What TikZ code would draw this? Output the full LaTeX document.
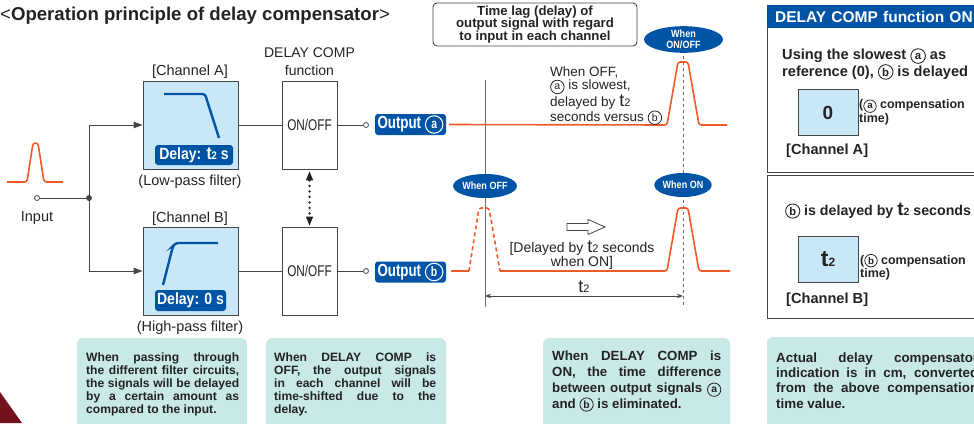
\documentclass[tikz,border=0pt]{standalone}
\usepackage{fontspec}
\setmainfont{Liberation Sans}
\newfontfamily\cond[FakeStretch=0.86]{Liberation Sans}
\newfontfamily\vcond[FakeStretch=0.76]{Liberation Sans}
\usetikzlibrary{arrows.meta,shapes.geometric,calc}
\definecolor{boxblue}{RGB}{200,232,248}
\definecolor{dblue}{RGB}{0,84,166}
\definecolor{sigor}{RGB}{240,90,40}
\definecolor{notec}{RGB}{200,233,230}
\definecolor{lgray}{RGB}{70,70,70}
\definecolor{mgray}{RGB}{110,110,110}
\definecolor{txt}{RGB}{35,35,35}
\definecolor{darkred}{RGB}{115,18,28}
\newcommand{\fs}[2]{\fontsize{#1}{#2}\selectfont}
\newcommand{\circled}[1]{\tikz[baseline=(cc.base)]\node[circle, draw, text=., line width=0.06em, inner sep=0pt, minimum size=1.0em] (cc) {\scalebox{0.78}{#1}};}
\newcommand{\ca}{\circled{a}}
\newcommand{\cb}{\circled{b}}
\newcommand{\tz}[2]{{\fontsize{#1}{#1}\selectfont t}{\fontsize{#2}{#2}\selectfont 2}}
\hyphenpenalty=10000
\exhyphenpenalty=10000
\tolerance=10000
\hbadness=10000
\begin{document}
\begin{tikzpicture}[x=1pt,y=-1pt,
  every node/.style={inner sep=0pt, text=txt},
  lbl/.style={font=\fs{14.5}{17}},
  filt/.style={draw=lgray, line width=.9, fill=boxblue, minimum width=95, minimum height=88},
  onoff/.style={draw=lgray, line width=.9, fill=white, minimum width=55, minimum height=88, font=\vcond\fs{15.5}{16}},
  dlab/.style={fill=dblue, rounded corners=3, text=white, font=\cond\bfseries\fs{16.3}{17}},
  outlab/.style={fill=dblue, rounded corners=3, text=white, font=\vcond\bfseries\fs{17.5}{18}, minimum width=71, minimum height=21},
  term/.style={circle, draw=lgray, fill=white, line width=.8, minimum size=5},
  jdot/.style={circle, fill=lgray, minimum size=6},
  wire/.style={draw=lgray, line width=.9},
  arr/.style={-{Triangle[length=9pt,width=6.5pt]}},
  curve/.style={draw=dblue, line width=2.4, rounded corners=2.5},
  pulse/.style={draw=sigor, line width=1.6, rounded corners=2.5, line join=round},
  ell/.style={ellipse, fill=dblue, text=white, font=\cond\bfseries\fs{10.5}{11}, align=center},
  axisl/.style={draw=mgray, line width=1},
  notebox/.style={fill=notec, rounded corners=6},
  notetext/.style={anchor=north west, align=justify, font=\bfseries\fs{12.1}{12.9}},
  cbox/.style={draw=lgray, line width=.9, fill=boxblue, minimum width=60, minimum height=46, font=\bfseries\fs{19}{19}},
  ptxt/.style={font=\bfseries\fs{14.6}{17}}
]
\useasboundingbox (0,0) rectangle (974,423);

% corner artefact
\fill[darkred] (0,392) -- (22,423) -- (0,423) -- cycle;

% title
\node[anchor=base west, font=\fs{18.6}{19}] (title) at (0,20) {\textless\textbf{Operation principle of delay compensator}\textgreater};

% input
\draw[pulse] (7,182) -- (27,182) -- (33,143) -- (38,143) -- (44,182) -- (63,182);
\node[term] (in) at (37,198) {};
\node[lbl, anchor=base] (inl) at (37,221) {Input};
\node[jdot] (j) at (89,198) {};

% filters
\node[lbl, anchor=base] (chA) at (190,75.5) {[Channel A]};
\node[filt] (fA) at (190.5,125) {};
\draw[curve] (164,94) -- (205,94) -- (219,138);
\node[dlab, minimum width=78, minimum height=20] (dA) at (194,155) {Delay: \tz{18}{11} s};
\node[lbl, anchor=base] (lp) at (190,185.5) {(Low-pass filter)};

\node[lbl, anchor=base] (chB) at (190,222) {[Channel B]};
\node[filt] (fB) at (190.5,271) {};
\draw[curve] (163,285) -- (173,246) -- (176,243) -- (218,243);
\node[dlab, minimum width=71, minimum height=21] (dB) at (190.5,300.5) {Delay: 0 s};
\node[lbl, anchor=base] (hp) at (190,331) {(High-pass filter)};

\draw[wire] (in) -- (j);
\draw[wire, arr] (j.center) |- (fA.west);
\draw[wire, arr] (j.center) |- (fB.west);

% delay comp function
\node[align=center, font=\fs{14}{18}] (dcf) at (309.5,62) {DELAY COMP\\function};
\node[onoff] (oA) at (309.5,125) {ON/OFF};
\node[onoff] (oB) at (309.5,271) {ON/OFF};
\draw[wire] (fA) -- (oA);
\draw[wire] (fB) -- (oB);
\draw[draw=txt, line width=2.6, line cap=round, dash pattern=on 0pt off 5.5pt,
  {Triangle[length=9pt,width=7.5pt,line width=0pt]}-{Triangle[length=9pt,width=7.5pt,line width=0pt]},
  shorten <=2pt, shorten >=1pt] (oA.south) -- (oB.north);

% outputs
\node[term] (tA) at (366,125) {};
\node[term] (tB) at (366,271) {};
\draw[wire] (oA) -- (tA);
\draw[wire] (oB) -- (tB);
\node[outlab] (outA) at (410.5,124.5) {Output \ca};
\node[outlab] (outB) at (410.5,272) {Output \cb};

% timing chart
\node[draw=lgray, line width=.9, rounded corners=4, minimum width=204, minimum height=43, align=center, font=\bfseries\fs{13.2}{12.8}] (lag) at (535,24.5) {Time lag (delay) of\\output signal with regard\\to input in each channel};
\coordinate (vt) at (485,80);
\coordinate (vb) at (485,307);
\draw[axisl] (vt) -- (vb);
\coordinate (dt) at (683,50);
\coordinate (db) at (683,307);
\draw[axisl, dash pattern=on 3pt off 3pt] (dt) -- (db);

\draw[pulse] ($(outA.east)+(3,0)$) -- (667,125) -- (678,62) -- (688,62) -- (699,125) -- (727,125);
\draw[pulse] ($(outB.east)+(5,-1)$) -- (469,271);
\draw[pulse, dash pattern=on 4pt off 3pt] (469,271) -- (479,208) -- (489,208) -- (500,271);
\draw[pulse] (500,271) -- (667,271) -- (678,208) -- (688,208) -- (699,271) -- (730,271);

\node[ell, minimum width=79, minimum height=23] (eAB) at (683.5,39.5) {When\\ON/OFF};
\node[ell, minimum width=49, minimum height=24] (eOff) at (485,186) {When OFF};
\node[ell, minimum width=49, minimum height=24] (eOn) at (683,185) {When ON};

\node[anchor=west, align=left, font=\fs{13.5}{12.8}] (offt) at (550,96) {When OFF,\\\ca{} is slowest,\\delayed by \tz{18}{11}\\seconds versus \cb};

\draw[lgray, fill=white, line width=.8] (567,223.5) -- (588,223.5) -- (588,219.5) -- (605,227) -- (588,234.5) -- (588,230.5) -- (567,230.5) -- cycle;
\node[anchor=base, font=\fs{14}{14}] (dl1) at (582,252) {[Delayed by \tz{18}{11} seconds};
\node[anchor=base, font=\fs{14}{14}] (dl2) at (582,266) {when ON]};

\coordinate (d1) at (485,296);
\coordinate (d2) at (683,296);
\draw[draw=lgray, line width=.8, {Stealth[length=6pt,width=4.5pt]}-{Stealth[length=6pt,width=4.5pt]}] (d1) -- (d2);
\node[anchor=base, font=\fs{14}{14}] (t2l) at (584,292) {\tz{18}{11}};

% right panel
\draw[lgray, line width=1] (767,5) rectangle (995,172);
\node[anchor=north west, fill=dblue, minimum width=230, minimum height=23, text=white, font=\bfseries\fs{15.5}{16}, align=left, text width=214, inner xsep=8] (hdr) at (767,5) {DELAY COMP function ON};
\node[anchor=west, align=left, ptxt] (use) at (782,64) {Using the slowest \ca{} as\\reference (0), \cb{} is delayed};
\node[cbox] (c0) at (828,112.5) {0};
\node[anchor=west, align=left, font=\bfseries\fs{12.5}{10}] (c0t) at (859,112.5) {(\ca{} compensation\\time)};
\node[anchor=base west, ptxt] (cha2) at (786,154) {[Channel A]};

\draw[lgray, line width=1] (767,175) rectangle (995,318);
\node[anchor=base west, font=\bfseries\fs{14.2}{17}] (bdel) at (785,215) {\cb{} is delayed by \tz{19}{10.5} seconds};
\node[cbox] (ct) at (828,259.5) {\tz{23}{12}};
\node[anchor=west, align=left, font=\bfseries\fs{12.5}{10}] (ctt) at (860,267) {(\cb{} compensation\\time)};
\node[anchor=base west, ptxt] (chb2) at (786,303) {[Channel B]};

\fill[notebox] (767,337) rectangle (1000,440);
\node[notetext, text width=202, font=\bfseries\fs{13.4}{15.1}] (n4) at (776,352.8) {Actual delay compensator\linebreak indication is in cm, converted\linebreak from the above compensation\linebreak time value.};

% bottom notes
\fill[notebox] (77,338) rectangle (247,440);
\node[notetext, text width=153] (n1) at (86,352.8) {When passing through\linebreak the different filter circuits,\linebreak the signals will be delayed\linebreak by a certain amount as\linebreak compared to the input.};
\fill[notebox] (266,338) rectangle (446,440);
\node[notetext, text width=162] (n2) at (274,352.8) {When DELAY COMP is\linebreak OFF, the output signals\linebreak in each channel will be\linebreak time-shifted due to the\linebreak delay.};
\fill[notebox] (543,338) rectangle (730,440);
\node[notetext, text width=169, font=\bfseries\fs{13.3}{15.8}] (n3) at (552,351) {When DELAY COMP is\linebreak ON, the time difference\linebreak between output signals \ca\linebreak and \cb{} is eliminated.};
\end{tikzpicture}
\end{document}
